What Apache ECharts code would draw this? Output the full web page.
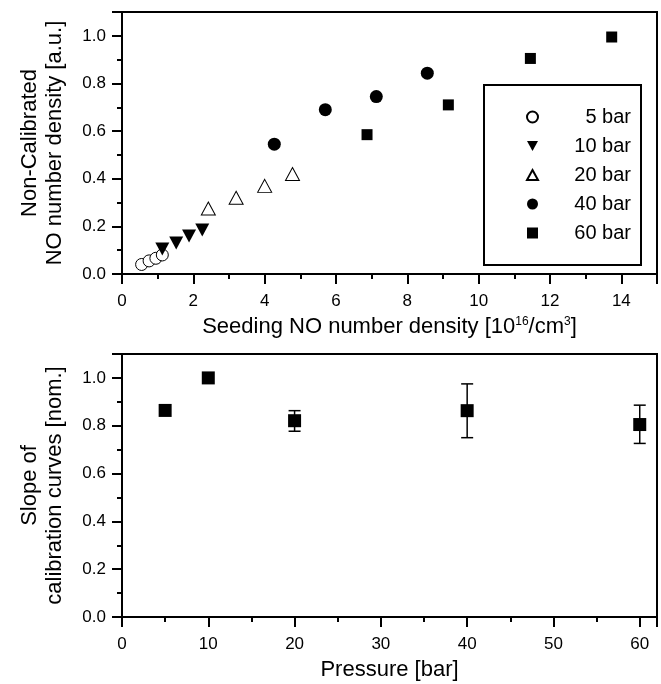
<!DOCTYPE html>
<html><head><meta charset="utf-8">
<script src="https://cdn.jsdelivr.net/npm/echarts@6/dist/echarts.min.js"></script>
<style>html,body{margin:0;padding:0;background:#fff}#c{width:661px;height:684px}</style>
</head><body><div id="c"></div>
<script>
// Top panel: seeding density vs. signal
const bar5X = [0.55, 0.76, 0.95, 1.13];
const bar5Y = [0.04, 0.055, 0.066, 0.08];
const bar10X = [1.13, 1.52, 1.88, 2.25];
const bar10Y = [0.105, 0.13, 0.16, 0.185];
const bar20X = [2.42, 3.2, 4.0, 4.78];
const bar20Y = [0.275, 0.32, 0.37, 0.42];
const bar40X = [4.27, 5.7, 7.13, 8.56];
const bar40Y = [0.545, 0.69, 0.745, 0.843];
const bar60X = [6.87, 9.15, 11.45, 13.73];
const bar60Y = [0.585, 0.71, 0.905, 0.995];
const seriesNames = ['5 bar', '10 bar', '20 bar', '40 bar', '60 bar'];
// Bottom panel
const pressure = [5, 10, 20, 40, 60];
const slope = [0.864, 1.0, 0.821, 0.863, 0.805];
const errLow = [null, null, 0.777, 0.750, 0.726];
const errHigh = [null, null, 0.863, 0.975, 0.886];

const FONT = 'Liberation Sans';
const pairs = (xs, ys) => xs.map((x, i) => [x, ys[i]]);
const downTri = 'path://M0,0 L10,0 L5,9 Z';
const upTri = 'path://M5,0 L10,9 L0,9 Z';

function yAxis(gi, name) {
  return {
    gridIndex: gi, type: 'value', min: 0, max: 1.1, interval: 0.2,
    name: name, nameLocation: 'middle', nameGap: 55,
    nameTextStyle: {fontFamily: FONT, fontSize: 22, color: '#000', lineHeight: 25},
    axisLine: {show: true, lineStyle: {color: '#000', width: 2}},
    axisTick: {show: true, inside: false, length: 10, lineStyle: {width: 2, color: '#000'}},
    minorTick: {show: true, splitNumber: 2, length: 5, lineStyle: {width: 2, color: '#000'}},
    splitLine: {show: false},
    axisLabel: {fontFamily: FONT, fontSize: 17, color: '#000', margin: 16, showMaxLabel: false,
      formatter: v => v.toFixed(1)}
  };
}
function xAxis(gi, max, interval, name, rich) {
  return {
    gridIndex: gi, type: 'value', min: 0, max: max, interval: interval,
    name: name, nameLocation: 'middle', nameGap: 42,
    nameTextStyle: {fontFamily: FONT, fontSize: 22, color: '#000', rich: rich},
    axisLine: {show: true, onZero: false, lineStyle: {color: '#000', width: 2}},
    axisTick: {show: true, inside: false, length: 10, lineStyle: {width: 2, color: '#000'}},
    minorTick: {show: true, splitNumber: 2, length: 5, lineStyle: {width: 2, color: '#000'}},
    splitLine: {show: false},
    axisLabel: {fontFamily: FONT, fontSize: 17, color: '#000', margin: 19, showMaxLabel: false}
  };
}

const chart = echarts.init(document.getElementById('c'), null, {renderer: 'canvas'});
const open = {color: '#fff', borderColor: '#000', borderWidth: 1, opacity: 1};
const filled = {color: '#000', borderColor: '#000', borderWidth: 0, opacity: 1};

chart.setOption({
  animation: false,
  backgroundColor: '#fff',
  grid: [
    {left: 122, top: 12, width: 535, height: 262, show: true, borderColor: '#000', borderWidth: 2},
    {left: 122, top: 354, width: 535, height: 263, show: true, borderColor: '#000', borderWidth: 2}
  ],
  xAxis: [
    xAxis(0, 15, 2, 'Seeding NO number density [10{sup|16}/cm{sup|3}]',
      {sup: {fontFamily: FONT, fontSize: 12, color: '#000', verticalAlign: 'top', padding: [0, 0, 9, 0]}}),
    xAxis(1, 62, 10, 'Pressure [bar]', {})
  ],
  yAxis: [
    yAxis(0, 'Non-Calibrated\nNO number density [a.u.]'),
    yAxis(1, 'Slope of\ncalibration curves [nom.]')
  ],
  legend: {
    orient: 'vertical', left: 484, top: 85,
    data: seriesNames,
    borderColor: '#000', borderWidth: 2,
    padding: [22, 10, 22, 42],
    itemWidth: 11, itemHeight: 11, itemGap: 9,
    formatter: n => '{a|' + n + '}',
    textStyle: {fontFamily: FONT, fontSize: 20, color: '#000',
      rich: {a: {fontFamily: FONT, fontSize: 20, width: 88, align: 'right', color: '#000'}}}
  },
  series: [
    {name: '5 bar', type: 'scatter', xAxisIndex: 0, yAxisIndex: 0, symbol: 'circle', symbolSize: 12,
      itemStyle: open, data: pairs(bar5X, bar5Y)},
    {name: '10 bar', type: 'scatter', xAxisIndex: 0, yAxisIndex: 0, symbol: downTri, symbolSize: [14, 13],
      itemStyle: filled, data: pairs(bar10X, bar10Y)},
    {name: '20 bar', type: 'scatter', xAxisIndex: 0, yAxisIndex: 0, symbol: upTri, symbolSize: [14, 13],
      itemStyle: open, data: pairs(bar20X, bar20Y)},
    {name: '40 bar', type: 'scatter', xAxisIndex: 0, yAxisIndex: 0, symbol: 'circle', symbolSize: 13,
      itemStyle: filled, data: pairs(bar40X, bar40Y)},
    {name: '60 bar', type: 'scatter', xAxisIndex: 0, yAxisIndex: 0, symbol: 'rect', symbolSize: 11,
      itemStyle: filled, data: pairs(bar60X, bar60Y)},
    {type: 'custom', xAxisIndex: 1, yAxisIndex: 1,
      data: pressure.map((p, i) => [p, errLow[i], errHigh[i]]).filter(d => d[1] != null),
      renderItem: (params, api) => {
        const lo = api.coord([api.value(0), api.value(1)]);
        const hi = api.coord([api.value(0), api.value(2)]);
        const w = 6;
        const st = {stroke: '#000', lineWidth: 1.5};
        return {type: 'group', children: [
          {type: 'line', shape: {x1: lo[0], y1: lo[1], x2: hi[0], y2: hi[1]}, style: st},
          {type: 'line', shape: {x1: lo[0] - w, y1: lo[1], x2: lo[0] + w, y2: lo[1]}, style: st},
          {type: 'line', shape: {x1: hi[0] - w, y1: hi[1], x2: hi[0] + w, y2: hi[1]}, style: st}
        ]};
      }, z: 1},
    {type: 'scatter', xAxisIndex: 1, yAxisIndex: 1, symbol: 'rect', symbolSize: 13, z: 3,
      itemStyle: filled, data: pairs(pressure, slope)}
  ]
});
</script>
</body></html>
